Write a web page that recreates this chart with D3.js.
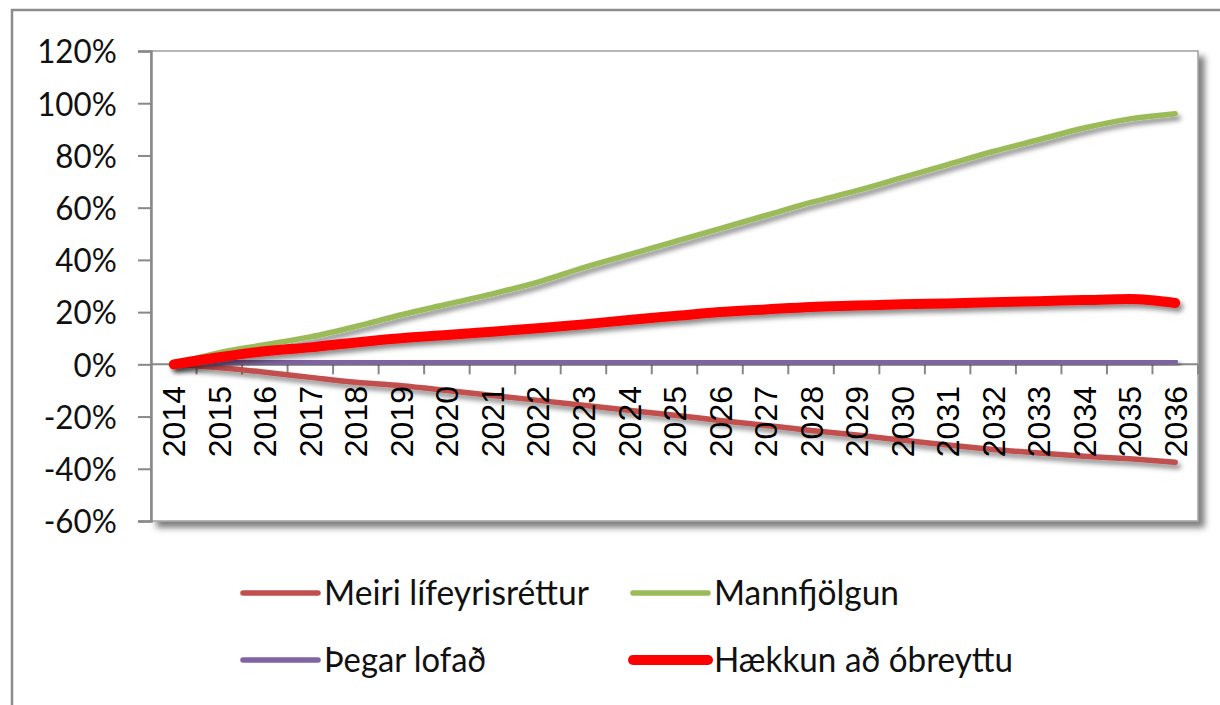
<!DOCTYPE html>
<html><head><meta charset="utf-8">
<script src="https://cdn.jsdelivr.net/npm/d3@7"></script>
<style>body{margin:0;background:#fff}svg{display:block}</style>
</head><body>
<svg id="c" width="1220" height="705"></svg>
<script>
const years = ["2014","2015","2016","2017","2018","2019","2020","2021","2022","2023","2024","2025","2026","2027","2028","2029","2030","2031","2032","2033","2034","2035","2036"];
const meiriLifeyrisrettur = [0,-1.3,-3,-5,-6.9,-8.2,-10,-11.9,-13.8,-15.7,-17.6,-19.5,-21.5,-23.4,-25.3,-27.1,-29,-30.9,-32.6,-34,-35.2,-36.2,-37.5];
const mannfjolgun = [0,4.5,7.5,10.5,14.5,19,23,27,31.5,37,42,47,52,57,62,66.5,71.5,76.5,81.5,86,90.5,94,96];
const thegarLofad = [0,0.7,1,1,1,1,1,1,1,1,1,1,1,1,1,1,1,1,1,1,1,1,1];
const haekkun = [0,2.7,5,6.5,8.4,10,11.2,12.5,13.8,15.3,17,18.5,20,21,22,22.5,23,23.3,23.8,24.2,24.6,25,23.5];
const yTicks = [120,100,80,60,40,20,0,-20,-40,-60];
const seriesNames = ["Meiri lífeyrisréttur","Mannfjölgun","Þegar lofað","Hækkun að óbreyttu"];

const series = [
  {name: seriesNames[0], values: meiriLifeyrisrettur, color: "#C0504D", width: 5.5},
  {name: seriesNames[1], values: mannfjolgun, color: "#9BBB59", width: 5.5},
  {name: seriesNames[2], values: thegarLofad, color: "#8064A2", width: 5.5},
  {name: seriesNames[3], values: haekkun, color: "#FF0000", width: 10}
];

const svg = d3.select("#c");
const L = 151, R = 1198, T = 51, B = 521;
const x = d3.scaleBand().domain(years).range([L, R]).padding(0);
const y = d3.scaleLinear().domain([-60, 120]).range([B, T]);
const xc = d => x(d) + x.bandwidth() / 2;

const defs = svg.append("defs");
const f1 = defs.append("filter").attr("id","lineShadow").attr("x","-10%").attr("y","-50%").attr("width","120%").attr("height","200%");
f1.append("feDropShadow").attr("dx",3).attr("dy",4).attr("stdDeviation",2.5).attr("flood-color","#000").attr("flood-opacity",0.45);
const f2 = defs.append("filter").attr("id","gridShadow").attr("x","-5%").attr("y","-200%").attr("width","110%").attr("height","800%");
f2.append("feDropShadow").attr("dx",2).attr("dy",5).attr("stdDeviation",3).attr("flood-color","#000").attr("flood-opacity",0.25);
const f3 = defs.append("filter").attr("id","boxShadow").attr("x","-5%").attr("y","-5%").attr("width","115%").attr("height","115%");
f3.append("feDropShadow").attr("dx",6).attr("dy",6).attr("stdDeviation",3).attr("flood-color","#000").attr("flood-opacity",0.5);

// outer border
svg.append("rect").attr("x",12).attr("y",10).attr("width",1300).attr("height",800)
  .attr("fill","none").attr("stroke","#8c8c8c").attr("stroke-width",2.5);

// plot area with shadow
svg.append("rect").attr("x",L).attr("y",T).attr("width",R-L).attr("height",B-T)
  .attr("fill","#fff").attr("stroke","#a0a0a0").attr("stroke-width",1.5).attr("filter","url(#boxShadow)");

// gridlines
const grid = svg.append("g");
grid.selectAll("line").data(yTicks.filter(t => t !== 0 && t !== -60)).join("line")
  .attr("x1", L).attr("x2", R).attr("y1", d => y(d)).attr("y2", d => y(d))
  .attr("stroke", "#888").attr("stroke-width", 2).attr("filter","url(#gridShadow)");

// y axis
const yAxis = d3.axisLeft(y).tickValues(yTicks).tickSize(13).tickFormat(d => d + "%");
const gy = svg.append("g").attr("transform", `translate(${L},0)`).call(yAxis);
gy.select(".domain").attr("stroke","#888").attr("stroke-width",2.5);
gy.selectAll(".tick line").attr("stroke","#888").attr("stroke-width",2);
gy.selectAll(".tick text").attr("x",-36).attr("dy","0.36em")
  .attr("font-family","Lato, 'Open Sans', sans-serif").attr("font-size",33).attr("fill","#111")
  .attr("transform","scale(0.95,1)");

// x axis line with ticks at category boundaries
const gx = svg.append("g");
gx.append("line").attr("x1",L).attr("x2",R).attr("y1",y(0)).attr("y2",y(0)).attr("stroke","#888").attr("stroke-width",2);
gx.selectAll("line.t").data(years).join("line").attr("class","t")
  .attr("x1", d => x(d) + x.bandwidth()).attr("x2", d => x(d) + x.bandwidth())
  .attr("y1", y(0)).attr("y2", y(0) + 10).attr("stroke","#888").attr("stroke-width",2);

// lines
const line = d3.line().x((d,i) => xc(years[i])).y(d => y(d)).curve(d3.curveMonotoneX);
svg.append("g").selectAll("path").data(series).join("path")
  .attr("d", s => line(s.values)).attr("fill","none")
  .attr("stroke", s => s.color).attr("stroke-width", s => s.width)
  .attr("stroke-linecap","round").attr("stroke-linejoin","round").attr("filter","url(#lineShadow)");

// x labels
svg.append("g").selectAll("text").data(years).join("text")
  .attr("transform", d => `translate(${xc(d)},386) rotate(-90)`)
  .attr("text-anchor","end").attr("dy","0.36em")
  .attr("font-family","'Liberation Sans', Arial, sans-serif").attr("font-size",32).attr("fill","#000")
  .text(d => d);

// legend
const legendPos = [[243,593],[633,593],[243,660],[633,660]];
const legendTextWidth = [265,185,162,299];
const leg = svg.append("g").selectAll("g").data(series).join("g")
  .attr("transform", (s,i) => `translate(${legendPos[i][0]},${legendPos[i][1]})`);
leg.append("line").attr("x1",0).attr("x2",75).attr("y1",0).attr("y2",0)
  .attr("stroke", s => s.color).attr("stroke-width", s => s.width).attr("stroke-linecap","round");
leg.append("text").attr("x",81).attr("dy","0.36em")
  .attr("font-family","Lato, 'Open Sans', sans-serif").attr("font-size",34).attr("fill","#111")
  .attr("textLength", (s,i) => legendTextWidth[i]).attr("lengthAdjust","spacingAndGlyphs")
  .text(s => s.name);
</script>
</body></html>
